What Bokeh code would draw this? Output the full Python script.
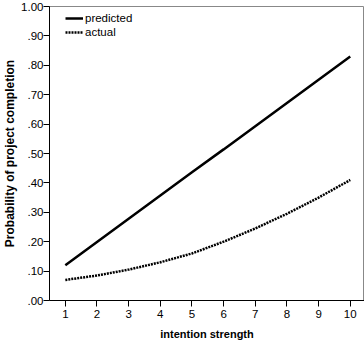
from bokeh.plotting import figure
from bokeh.models import CustomJSTickFormatter, FixedTicker, Range1d, Legend, LegendItem
from bokeh.embed import file_html
from bokeh.resources import INLINE

x_vals = [1, 2, 3, 4, 5, 6, 7, 8, 9, 10]
predicted = [0.120, 0.199, 0.278, 0.357, 0.436, 0.514, 0.593, 0.672, 0.751, 0.830]
actual = [0.07, 0.085, 0.105, 0.13, 0.16, 0.20, 0.245, 0.295, 0.35, 0.41]
y_ticks = [0.0, 0.1, 0.2, 0.3, 0.4, 0.5, 0.6, 0.7, 0.8, 0.9, 1.0]

FONT = "Liberation Sans"

p = figure(width=364, height=342, output_backend="svg", toolbar_location=None,
           x_range=Range1d(0.5, 10.45), y_range=Range1d(0, 1.0),
           min_border_left=46, min_border_top=6, min_border_right=0, min_border_bottom=40)
p.background_fill_color = "white"
p.border_fill_color = "white"
p.outline_line_color = "#888888"
p.outline_line_width = 1
p.xgrid.visible = False
p.ygrid.visible = False

r1 = p.line(x_vals, predicted, line_color="black", line_width=2.5)
r2 = p.line(x_vals, actual, line_color="black", line_width=2.5, line_dash="2 1")

legend = Legend(items=[LegendItem(label="predicted", renderers=[r1]),
                       LegendItem(label="actual", renderers=[r2])],
                location=(16, 262))
legend.border_line_color = None
legend.background_fill_alpha = 0
legend.label_text_font = FONT
legend.label_text_font_size = "11.5px"
legend.label_text_color = "black"
legend.glyph_width = 18
legend.glyph_height = 12
legend.label_standoff = 2
legend.spacing = 2
legend.padding = 0
legend.margin = 0
legend.label_height = 12
p.add_layout(legend)

p.xaxis.ticker = FixedTicker(ticks=x_vals)
p.yaxis.ticker = FixedTicker(ticks=y_ticks)
p.yaxis.formatter = CustomJSTickFormatter(code="return tick.toFixed(2).replace(/^0/, '');")

for ax in (p.xaxis[0], p.yaxis[0]):
    ax.axis_line_color = "black"
    ax.axis_line_width = 1
    ax.major_tick_line_color = "black"
    ax.major_tick_out = 6
    ax.major_tick_in = 0
    ax.minor_tick_line_color = None
    ax.major_label_text_font = FONT
    ax.major_label_text_font_size = "11.5px"
    ax.major_label_text_color = "black"
    ax.axis_label_text_font = FONT
    ax.axis_label_text_font_style = "bold"
    ax.axis_label_text_color = "black"

p.xaxis.axis_label = "intention strength"
p.yaxis.axis_label = "Probability of project completion"
p.xaxis.axis_label_text_font_size = "11px"
p.yaxis.axis_label_text_font_size = "12px"
p.xaxis.major_label_standoff = 3
p.yaxis.major_label_standoff = 0
p.xaxis.axis_label_standoff = 7
p.yaxis.axis_label_standoff = 1

open("out.html", "w").write(file_html(p, INLINE))
